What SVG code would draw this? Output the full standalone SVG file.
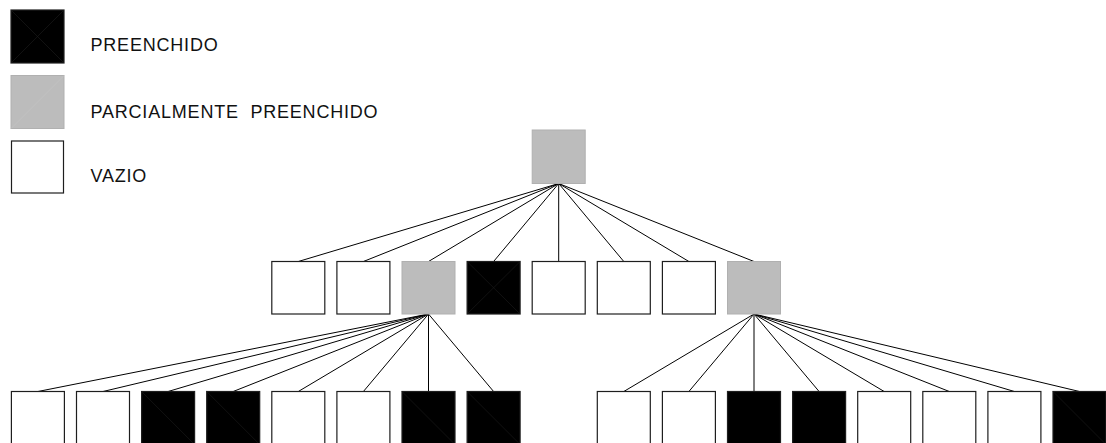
<svg xmlns="http://www.w3.org/2000/svg" width="1106" height="443" viewBox="0 0 1106 443">
  <style>
    .w { fill: #ffffff; stroke: #1e1e1e; stroke-width: 1.2; }
    .g { fill: #bcbcbc; stroke: #b0b0b0; stroke-width: 1; }
    .b { fill: #000000; stroke: #1e1e1e; stroke-width: 1.2; }
    .d { stroke: #1c1c1c; stroke-width: 0.6; fill: none; }
    .dg { stroke: #c4c4c4; stroke-width: 0.6; fill: none; }
    .c { stroke: #000000; stroke-width: 1; fill: none; }
    .t { font-family: "Liberation Sans", Arial, sans-serif; font-size: 18px; letter-spacing: 0.8px; fill: #111111; }
  </style>
  <rect width="1106" height="443" fill="#ffffff"/>

  <g id="legend">
    <g id="legend-filled">
      <rect class="b" x="11" y="10" width="53" height="53"/>
      <path class="d" d="M11 10 L64 63 M11 63 L64 10"/>
      <text class="t" x="90.5" y="51">PREENCHIDO</text>
    </g>
    <g id="legend-partial">
      <rect class="g" x="11" y="75.5" width="53" height="53"/>
      <path class="dg" d="M11 128.5 L64 75.5"/>
      <text class="t" x="90.5" y="118" xml:space="preserve">PARCIALMENTE  PREENCHIDO</text>
    </g>
    <g id="legend-empty">
      <rect class="w" x="11.5" y="141" width="52" height="52"/>
      <text class="t" x="90.5" y="182">VAZIO</text>
    </g>
  </g>

  <g id="connectors">
    <path class="c" d="M558.7 183.5 L298.3 261.5 M558.7 183.5 L363.4 261.5 M558.7 183.5 L428.5 261.5 M558.7 183.5 L493.6 261.5 M558.7 183.5 L558.7 261.5 M558.7 183.5 L623.8 261.5 M558.7 183.5 L688.9 261.5 M558.7 183.5 L754 261.5"/>
    <path class="c" d="M428.5 314 L37.9 391.5 M428.5 314 L103 391.5 M428.5 314 L168.1 391.5 M428.5 314 L233.2 391.5 M428.5 314 L298.3 391.5 M428.5 314 L363.4 391.5 M428.5 314 L428.5 391.5 M428.5 314 L493.6 391.5"/>
    <path class="c" d="M754 314 L623.8 391.5 M754 314 L688.9 391.5 M754 314 L754 391.5 M754 314 L819.1 391.5 M754 314 L884.2 391.5 M754 314 L949.3 391.5 M754 314 L1014.4 391.5 M754 314 L1079.5 391.5"/>
  </g>

  <g id="root"><rect class="g" x="532.2" y="130" width="53" height="53.5"/></g>

  <g id="m1"><rect class="w" x="271.8" y="261.5" width="53" height="52.5"/></g>
  <g id="m2"><rect class="w" x="336.9" y="261.5" width="53" height="52.5"/></g>
  <g id="m3"><rect class="g" x="402" y="261.5" width="53" height="52.5"/></g>
  <g id="m4"><rect class="b" x="467.1" y="261.5" width="53" height="52.5"/><path class="d" d="M467.1 314 L520.1 261.5 M467.1 261.5 L520.1 314"/></g>
  <g id="m5"><rect class="w" x="532.2" y="261.5" width="53" height="52.5"/></g>
  <g id="m6"><rect class="w" x="597.3" y="261.5" width="53" height="52.5"/></g>
  <g id="m7"><rect class="w" x="662.4" y="261.5" width="53" height="52.5"/></g>
  <g id="m8"><rect class="g" x="727.5" y="261.5" width="53" height="52.5"/></g>

  <g id="l1"><rect class="w" x="11.4" y="391.5" width="53" height="53"/></g>
  <g id="l2"><rect class="w" x="76.5" y="391.5" width="53" height="53"/></g>
  <g id="l3"><rect class="b" x="141.6" y="391.5" width="53" height="53"/><path class="d" d="M141.6 391.5 L194.6 444.5"/></g>
  <g id="l4"><rect class="b" x="206.7" y="391.5" width="53" height="53"/><path class="d" d="M206.7 391.5 L259.7 444.5"/></g>
  <g id="l5"><rect class="w" x="271.8" y="391.5" width="53" height="53"/></g>
  <g id="l6"><rect class="w" x="336.9" y="391.5" width="53" height="53"/></g>
  <g id="l7"><rect class="b" x="402" y="391.5" width="53" height="53"/><path class="d" d="M402 391.5 L455 444.5"/></g>
  <g id="l8"><rect class="b" x="467.1" y="391.5" width="53" height="53"/><path class="d" d="M467.1 391.5 L520.1 444.5"/></g>

  <g id="r1"><rect class="w" x="597.3" y="391.5" width="53" height="53"/></g>
  <g id="r2"><rect class="w" x="662.4" y="391.5" width="53" height="53"/></g>
  <g id="r3"><rect class="b" x="727.5" y="391.5" width="53" height="53"/></g>
  <g id="r4"><rect class="b" x="792.6" y="391.5" width="53" height="53"/></g>
  <g id="r5"><rect class="w" x="857.7" y="391.5" width="53" height="53"/></g>
  <g id="r6"><rect class="w" x="922.8" y="391.5" width="53" height="53"/></g>
  <g id="r7"><rect class="w" x="987.9" y="391.5" width="53" height="53"/></g>
  <g id="r8"><rect class="b" x="1053" y="391.5" width="53" height="53"/><path class="d" d="M1053 391.5 L1106 444.5"/></g>
</svg>
